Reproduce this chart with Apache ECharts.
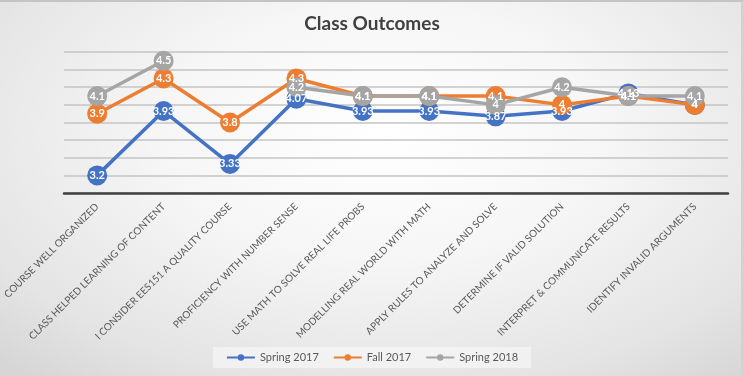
<!DOCTYPE html>
<html>
<head>
<meta charset="utf-8">
<script src="https://cdn.jsdelivr.net/npm/echarts@6/dist/echarts.min.js"></script>
<style>
  html, body { margin: 0; padding: 0; }
  body { width: 744px; height: 376px; overflow: hidden; }
  #frame {
    position: absolute; left: 0; top: 0; width: 744px; height: 376px; box-sizing: border-box;
    border-top: 2px solid #c4c4c4; border-right: 3px solid #d2d2d2;
    background: radial-gradient(ellipse 75% 85% at 52% 35%, #ffffff 0%, #f6f6f6 40%, #e4e4e4 80%, #d6d6d6 100%);
  }
  #chart { position: absolute; left: 0; top: 0; width: 744px; height: 376px; }
</style>
</head>
<body>
<div id="frame"></div>
<div id="chart"></div>
<script>
const categories = [
  "COURSE WELL ORGANIZED",
  "CLASS HELPED LEARNING OF CONTENT",
  "I CONSIDER EES151 A QUALITY COURSE",
  "PROFICIENCY WITH NUMBER SENSE",
  "USE MATH TO SOLVE REAL LIFE PROBS",
  "MODELLING REAL WORLD WITH MATH",
  "APPLY RULES TO ANALYZE AND SOLVE",
  "DETERMINE IF VALID SOLUTION",
  "INTERPRET & COMMUNICATE RESULTS",
  "IDENTIFY INVALID ARGUMENTS"
];
const spring2017 = [3.2, 3.93, 3.33, 4.07, 3.93, 3.93, 3.87, 3.93, 4.13, 4.0];
const fall2017   = [3.9, 4.3, 3.8, 4.3, 4.1, 4.1, 4.1, 4, 4.1, 4];
const spring2018 = [4.1, 4.5, null, 4.2, 4.1, 4.1, 4, 4.2, 4.1, 4.1];
const seriesNames = ["Spring 2017", "Fall 2017", "Spring 2018"];
const yTicks = { min: 3, max: 4.6, step: 0.2 };

const colors = ["#4472C4", "#ED7D31", "#A5A5A5"];
const chart = echarts.init(document.getElementById('chart'), null, { renderer: 'canvas' });

function mkSeries(name, data, color) {
  return {
    name: name,
    type: 'line',
    data: data,
    connectNulls: false,
    symbol: 'circle',
    symbolSize: 20,
    lineStyle: { color: color, width: 3.5 },
    itemStyle: { color: color },
    label: {
      show: true,
      position: 'inside',
      color: '#ffffff',
      fontFamily: 'Lato',
      fontWeight: 'bold',
      fontSize: 11,
      formatter: p => (p.value === null || p.value === undefined) ? '' : String(p.value)
    },
    emphasis: { disabled: true },
    animation: false
  };
}

chart.setOption({
  backgroundColor: 'transparent',
  animation: false,
  title: {
    text: 'Class Outcomes',
    left: 'center',
    top: 9,
    textStyle: { fontFamily: 'Lato', fontWeight: 'bold', fontSize: 19, color: '#404040' }
  },
  legend: {
    left: 'center',
    top: 347,
    padding: [5, 13, 5, 13],
    backgroundColor: 'rgba(255,255,255,0.45)',
    itemWidth: 28,
    itemHeight: 8,
    itemGap: 14,
    textStyle: { fontFamily: 'Lato', fontSize: 11, color: '#595959' },
    data: seriesNames
  },
  grid: { left: 64, right: 16, top: 52, bottom: 183, containLabel: false },
  xAxis: {
    type: 'category',
    data: categories,
    boundaryGap: true,
    axisLine: { show: true, lineStyle: { color: '#404040', width: 2.5 } },
    axisTick: { show: false },
    axisLabel: {
      interval: 0,
      rotate: 45,
      margin: 12,
      fontFamily: 'Lato',
      fontSize: 10,
      color: '#595959'
    },
    splitLine: { show: false }
  },
  yAxis: {
    type: 'value',
    min: yTicks.min,
    max: yTicks.max,
    interval: yTicks.step,
    axisLine: { show: false },
    axisTick: { show: false },
    axisLabel: { show: false },
    splitLine: { show: true, lineStyle: { color: '#c4c4c4', width: 1.5 } }
  },
  series: [
    mkSeries(seriesNames[0], spring2017, colors[0]),
    mkSeries(seriesNames[1], fall2017, colors[1]),
    mkSeries(seriesNames[2], spring2018, colors[2])
  ]
});
</script>
</body>
</html>
